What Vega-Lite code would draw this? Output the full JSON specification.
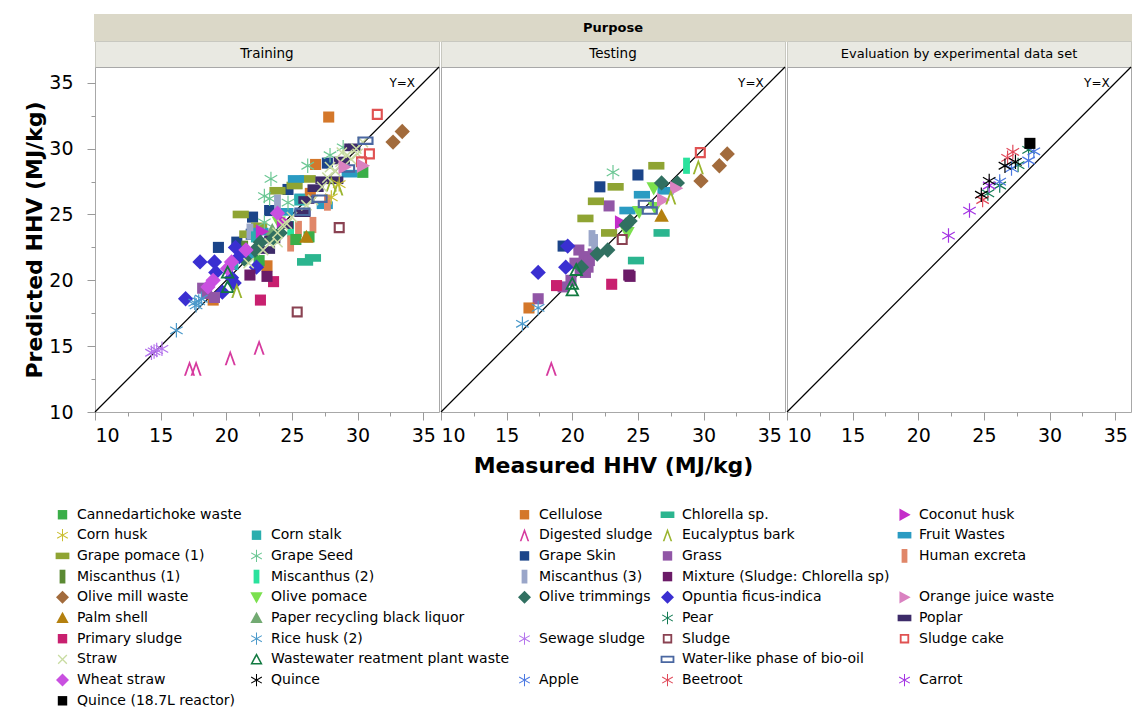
{
  "$schema": "https://vega.github.io/schema/vega-lite/v6.json",
  "padding": {"left": 23, "top": 14, "right": 5, "bottom": 5},
  "config": {
    "font": "DejaVu Sans",
    "view": {"stroke": "#a8a8a8", "strokeWidth": 1},
    "axis": {"grid": false, "domain": false, "tickColor": "#9a9a9a", "tickWidth": 1, "labelColor": "#000000", "labelFontSize": 19, "labelFont": "DejaVu Sans", "titleFont": "DejaVu Sans", "titleFontSize": 22, "titleFontWeight": "bold", "titleColor": "#000000"},
    "legend": {"labelFont": "DejaVu Sans", "labelFontSize": 14, "labelColor": "#000000", "labelLimit": 400, "symbolSize": 210, "symbolStrokeWidth": 0, "symbolOpacity": 1, "symbolLimit": 60, "columns": 5, "direction": "horizontal", "gridAlign": "each", "columnPadding": 7, "rowPadding": 5.7, "padding": 0, "labelOffset": 7}
  },
  "datasets": {
    "pts": [
      {"purpose":"Training","source":"Grape Skin","measured":27.7,"predicted":28.9},
      {"purpose":"Training","source":"Grape Skin","measured":24.7,"predicted":26.9},
      {"purpose":"Training","source":"Grape Skin","measured":23.3,"predicted":25.3},
      {"purpose":"Training","source":"Grape Skin","measured":22.0,"predicted":24.8},
      {"purpose":"Training","source":"Grape Skin","measured":19.4,"predicted":22.5},
      {"purpose":"Training","source":"Grape Skin","measured":20.8,"predicted":22.9},
      {"purpose":"Training","source":"Grape Skin","measured":21.9,"predicted":23.5},
      {"purpose":"Training","source":"Grape pomace (1)","measured":26.2,"predicted":27.7},
      {"purpose":"Training","source":"Grape pomace (1)","measured":25.2,"predicted":27.2},
      {"purpose":"Training","source":"Grape pomace (1)","measured":23.9,"predicted":26.8},
      {"purpose":"Training","source":"Grape pomace (1)","measured":21.1,"predicted":25.0},
      {"purpose":"Training","source":"Grape pomace (1)","measured":21.6,"predicted":23.5},
      {"purpose":"Training","source":"Grape pomace (1)","measured":22.5,"predicted":24.1},
      {"purpose":"Training","source":"Fruit Wastes","measured":25.3,"predicted":27.7},
      {"purpose":"Training","source":"Fruit Wastes","measured":25.8,"predicted":26.3},
      {"purpose":"Training","source":"Fruit Wastes","measured":27.5,"predicted":25.7},
      {"purpose":"Training","source":"Fruit Wastes","measured":29.4,"predicted":28.1},
      {"purpose":"Training","source":"Fruit Wastes","measured":22.6,"predicted":23.7},
      {"purpose":"Training","source":"Fruit Wastes","measured":24.5,"predicted":25.2},
      {"purpose":"Training","source":"Fruit Wastes","measured":21.8,"predicted":21.9},
      {"purpose":"Training","source":"Cellulose","measured":27.8,"predicted":32.4},
      {"purpose":"Training","source":"Cellulose","measured":26.8,"predicted":28.8},
      {"purpose":"Training","source":"Cellulose","measured":23.1,"predicted":21.1},
      {"purpose":"Training","source":"Cellulose","measured":19.0,"predicted":18.5},
      {"purpose":"Training","source":"Cellulose","measured":26.4,"predicted":26.6},
      {"purpose":"Training","source":"Grape Seed","measured":23.4,"predicted":27.7},
      {"purpose":"Training","source":"Grape Seed","measured":22.9,"predicted":26.4},
      {"purpose":"Training","source":"Grape Seed","measured":26.2,"predicted":28.7},
      {"purpose":"Training","source":"Grape Seed","measured":27.9,"predicted":29.5},
      {"purpose":"Training","source":"Grape Seed","measured":28.9,"predicted":30.1},
      {"purpose":"Training","source":"Grape Seed","measured":22.9,"predicted":24.4},
      {"purpose":"Training","source":"Grape Seed","measured":24.7,"predicted":25.9},
      {"purpose":"Training","source":"Grape Seed","measured":23.3,"predicted":26.2},
      {"purpose":"Training","source":"Miscanthus (3)","measured":23.9,"predicted":25.9},
      {"purpose":"Training","source":"Miscanthus (3)","measured":21.8,"predicted":23.7},
      {"purpose":"Training","source":"Miscanthus (1)","measured":21.4,"predicted":22.4},
      {"purpose":"Training","source":"Miscanthus (2)","measured":24.9,"predicted":23.9},
      {"purpose":"Training","source":"Corn stalk","measured":22.3,"predicted":23.3},
      {"purpose":"Training","source":"Corn stalk","measured":25.6,"predicted":26.1},
      {"purpose":"Training","source":"Corn stalk","measured":20.5,"predicted":21.2},
      {"purpose":"Training","source":"Human excreta","measured":27.7,"predicted":25.9},
      {"purpose":"Training","source":"Human excreta","measured":25.5,"predicted":23.9},
      {"purpose":"Training","source":"Human excreta","measured":24.9,"predicted":22.8},
      {"purpose":"Training","source":"Human excreta","measured":26.6,"predicted":24.2},
      {"purpose":"Training","source":"Cannedartichoke waste","measured":26.3,"predicted":23.3},
      {"purpose":"Training","source":"Cannedartichoke waste","measured":30.4,"predicted":28.2},
      {"purpose":"Training","source":"Cannedartichoke waste","measured":25.3,"predicted":23.1},
      {"purpose":"Training","source":"Cannedartichoke waste","measured":22.5,"predicted":21.5},
      {"purpose":"Training","source":"Palm shell","measured":26.1,"predicted":23.3},
      {"purpose":"Training","source":"Paper recycling black liquor","measured":23.5,"predicted":23.8},
      {"purpose":"Training","source":"Olive pomace","measured":24.0,"predicted":24.4},
      {"purpose":"Training","source":"Poplar","measured":27.4,"predicted":27.6},
      {"purpose":"Training","source":"Poplar","measured":26.8,"predicted":27.0},
      {"purpose":"Training","source":"Poplar","measured":28.3,"predicted":27.6},
      {"purpose":"Training","source":"Poplar","measured":26.1,"predicted":26.1},
      {"purpose":"Training","source":"Poplar","measured":25.8,"predicted":25.1},
      {"purpose":"Training","source":"Poplar","measured":29.6,"predicted":30.1},
      {"purpose":"Training","source":"Poplar","measured":23.1,"predicted":22.3},
      {"purpose":"Training","source":"Poplar","measured":24.5,"predicted":24.2},
      {"purpose":"Training","source":"Poplar","measured":28.8,"predicted":29.1},
      {"purpose":"Training","source":"Poplar","measured":23.5,"predicted":23.1},
      {"purpose":"Training","source":"Coconut husk","measured":22.7,"predicted":23.7},
      {"purpose":"Training","source":"Coconut husk","measured":24.3,"predicted":24.5},
      {"purpose":"Training","source":"Olive trimmings","measured":23.6,"predicted":23.2},
      {"purpose":"Training","source":"Olive trimmings","measured":22.6,"predicted":22.9},
      {"purpose":"Training","source":"Olive trimmings","measured":22.2,"predicted":22.3},
      {"purpose":"Training","source":"Olive trimmings","measured":24.1,"predicted":23.6},
      {"purpose":"Training","source":"Olive trimmings","measured":21.4,"predicted":21.6},
      {"purpose":"Training","source":"Opuntia ficus-indica","measured":18.0,"predicted":21.4},
      {"purpose":"Training","source":"Opuntia ficus-indica","measured":16.9,"predicted":18.6},
      {"purpose":"Training","source":"Opuntia ficus-indica","measured":19.1,"predicted":21.4},
      {"purpose":"Training","source":"Opuntia ficus-indica","measured":20.7,"predicted":22.5},
      {"purpose":"Training","source":"Opuntia ficus-indica","measured":21.0,"predicted":21.8},
      {"purpose":"Training","source":"Opuntia ficus-indica","measured":22.3,"predicted":21.0},
      {"purpose":"Training","source":"Opuntia ficus-indica","measured":20.6,"predicted":19.8},
      {"purpose":"Training","source":"Opuntia ficus-indica","measured":19.2,"predicted":20.6},
      {"purpose":"Training","source":"Opuntia ficus-indica","measured":19.7,"predicted":19.1},
      {"purpose":"Training","source":"Opuntia ficus-indica","measured":20.4,"predicted":20.2},
      {"purpose":"Training","source":"Grass","measured":18.2,"predicted":19.4},
      {"purpose":"Training","source":"Grass","measured":19.1,"predicted":18.7},
      {"purpose":"Training","source":"Grass","measured":18.5,"predicted":19.0},
      {"purpose":"Training","source":"Wheat straw","measured":23.9,"predicted":25.1},
      {"purpose":"Training","source":"Wheat straw","measured":21.5,"predicted":22.3},
      {"purpose":"Training","source":"Wheat straw","measured":20.4,"predicted":21.4},
      {"purpose":"Training","source":"Wheat straw","measured":19.0,"predicted":20.0},
      {"purpose":"Training","source":"Wheat straw","measured":18.6,"predicted":19.5},
      {"purpose":"Training","source":"Wheat straw","measured":20.1,"predicted":20.9},
      {"purpose":"Training","source":"Chlorella sp.","measured":26.0,"predicted":21.4},
      {"purpose":"Training","source":"Chlorella sp.","measured":26.6,"predicted":21.7},
      {"purpose":"Training","source":"Primary sludge","measured":23.6,"predicted":19.9},
      {"purpose":"Training","source":"Primary sludge","measured":22.6,"predicted":18.5},
      {"purpose":"Training","source":"Mixture (Sludge: Chlorella sp)","measured":21.8,"predicted":20.4},
      {"purpose":"Training","source":"Mixture (Sludge: Chlorella sp)","measured":23.1,"predicted":20.3},
      {"purpose":"Training","source":"Wastewater reatment plant waste","measured":20.1,"predicted":19.5},
      {"purpose":"Training","source":"Wastewater reatment plant waste","measured":20.1,"predicted":20.6},
      {"purpose":"Training","source":"Eucalyptus bark","measured":28.5,"predicted":27.0},
      {"purpose":"Training","source":"Eucalyptus bark","measured":20.8,"predicted":19.2},
      {"purpose":"Training","source":"Eucalyptus bark","measured":28.0,"predicted":27.3},
      {"purpose":"Training","source":"Corn husk","measured":28.0,"predicted":26.3},
      {"purpose":"Training","source":"Corn husk","measured":28.6,"predicted":27.3},
      {"purpose":"Training","source":"Rice husk (2)","measured":17.6,"predicted":18.3},
      {"purpose":"Training","source":"Rice husk (2)","measured":18.1,"predicted":18.6},
      {"purpose":"Training","source":"Rice husk (2)","measured":16.2,"predicted":16.2},
      {"purpose":"Training","source":"Rice husk (2)","measured":17.7,"predicted":18.1},
      {"purpose":"Training","source":"Rice husk (2)","measured":17.9,"predicted":18.4},
      {"purpose":"Training","source":"Sewage sludge","measured":14.7,"predicted":14.7},
      {"purpose":"Training","source":"Sewage sludge","measured":14.3,"predicted":14.5},
      {"purpose":"Training","source":"Sewage sludge","measured":15.1,"predicted":14.8},
      {"purpose":"Training","source":"Sewage sludge","measured":14.5,"predicted":14.6},
      {"purpose":"Training","source":"Digested sludge","measured":17.2,"predicted":13.3},
      {"purpose":"Training","source":"Digested sludge","measured":17.7,"predicted":13.3},
      {"purpose":"Training","source":"Digested sludge","measured":20.3,"predicted":14.1},
      {"purpose":"Training","source":"Digested sludge","measured":22.5,"predicted":14.9},
      {"purpose":"Training","source":"Straw","measured":30.4,"predicted":30.5},
      {"purpose":"Training","source":"Straw","measured":29.9,"predicted":30.0},
      {"purpose":"Training","source":"Straw","measured":29.2,"predicted":29.5},
      {"purpose":"Training","source":"Straw","measured":28.7,"predicted":29.0},
      {"purpose":"Training","source":"Straw","measured":27.9,"predicted":28.6},
      {"purpose":"Training","source":"Straw","measured":27.7,"predicted":27.8},
      {"purpose":"Training","source":"Straw","measured":27.3,"predicted":27.1},
      {"purpose":"Training","source":"Straw","measured":26.6,"predicted":26.1},
      {"purpose":"Training","source":"Straw","measured":26.1,"predicted":25.7},
      {"purpose":"Training","source":"Straw","measured":25.0,"predicted":24.8},
      {"purpose":"Training","source":"Straw","measured":24.3,"predicted":24.2},
      {"purpose":"Training","source":"Straw","measured":23.9,"predicted":23.6},
      {"purpose":"Training","source":"Straw","measured":23.3,"predicted":22.8},
      {"purpose":"Training","source":"Straw","measured":24.6,"predicted":24.3},
      {"purpose":"Training","source":"Straw","measured":23.9,"predicted":22.9},
      {"purpose":"Training","source":"Straw","measured":21.7,"predicted":21.3},
      {"purpose":"Training","source":"Straw","measured":28.8,"predicted":29.7},
      {"purpose":"Training","source":"Straw","measured":28.3,"predicted":28.3},
      {"purpose":"Training","source":"Straw","measured":29.5,"predicted":29.2},
      {"purpose":"Training","source":"Straw","measured":22.8,"predicted":22.3},
      {"purpose":"Training","source":"Straw","measured":30.0,"predicted":29.6},
      {"purpose":"Training","source":"Water-like phase of bio-oil","measured":30.6,"predicted":30.6},
      {"purpose":"Training","source":"Water-like phase of bio-oil","measured":29.2,"predicted":28.5},
      {"purpose":"Training","source":"Water-like phase of bio-oil","measured":27.1,"predicted":26.2},
      {"purpose":"Training","source":"Water-like phase of bio-oil","measured":25.8,"predicted":25.2},
      {"purpose":"Training","source":"Sludge cake","measured":31.5,"predicted":32.6},
      {"purpose":"Training","source":"Sludge cake","measured":30.9,"predicted":29.6},
      {"purpose":"Training","source":"Sludge cake","measured":30.3,"predicted":29.0},
      {"purpose":"Training","source":"Orange juice waste","measured":30.4,"predicted":28.7},
      {"purpose":"Training","source":"Orange juice waste","measured":29.0,"predicted":28.6},
      {"purpose":"Training","source":"Olive mill waste","measured":33.4,"predicted":31.3},
      {"purpose":"Training","source":"Olive mill waste","measured":32.7,"predicted":30.5},
      {"purpose":"Training","source":"Sludge","measured":28.6,"predicted":24.0},
      {"purpose":"Training","source":"Sludge","measured":25.4,"predicted":17.6},
      {"purpose":"Testing","source":"Grass","measured":22.8,"predicted":25.65},
      {"purpose":"Testing","source":"Grass","measured":17.4,"predicted":18.6},
      {"purpose":"Testing","source":"Grass","measured":20.5,"predicted":22.3},
      {"purpose":"Testing","source":"Grass","measured":20.9,"predicted":21.8},
      {"purpose":"Testing","source":"Grass","measured":21.3,"predicted":21.5},
      {"purpose":"Testing","source":"Grass","measured":20.6,"predicted":20.9},
      {"purpose":"Testing","source":"Grass","measured":21.6,"predicted":22.0},
      {"purpose":"Testing","source":"Grass","measured":20.2,"predicted":21.3},
      {"purpose":"Testing","source":"Grass","measured":21.0,"predicted":20.6},
      {"purpose":"Testing","source":"Grass","measured":19.9,"predicted":20.0},
      {"purpose":"Testing","source":"Grass","measured":21.2,"predicted":21.0},
      {"purpose":"Testing","source":"Grass","measured":19.3,"predicted":19.5},
      {"purpose":"Testing","source":"Grape pomace (1)","measured":26.4,"predicted":28.7},
      {"purpose":"Testing","source":"Grape pomace (1)","measured":23.3,"predicted":27.1},
      {"purpose":"Testing","source":"Grape pomace (1)","measured":21.8,"predicted":26.0},
      {"purpose":"Testing","source":"Grape pomace (1)","measured":21.0,"predicted":24.7},
      {"purpose":"Testing","source":"Grape pomace (1)","measured":22.8,"predicted":23.6},
      {"purpose":"Testing","source":"Grape Seed","measured":23.1,"predicted":28.2},
      {"purpose":"Testing","source":"Grape Skin","measured":25.0,"predicted":28.0},
      {"purpose":"Testing","source":"Grape Skin","measured":22.1,"predicted":27.1},
      {"purpose":"Testing","source":"Grape Skin","measured":19.3,"predicted":22.6},
      {"purpose":"Testing","source":"Fruit Wastes","measured":25.3,"predicted":26.5},
      {"purpose":"Testing","source":"Fruit Wastes","measured":24.2,"predicted":25.3},
      {"purpose":"Testing","source":"Fruit Wastes","measured":27.1,"predicted":26.8},
      {"purpose":"Testing","source":"Miscanthus (3)","measured":21.5,"predicted":23.2},
      {"purpose":"Testing","source":"Miscanthus (3)","measured":21.7,"predicted":22.9},
      {"purpose":"Testing","source":"Miscanthus (2)","measured":28.7,"predicted":28.7},
      {"purpose":"Testing","source":"Olive pomace","measured":26.2,"predicted":27.0},
      {"purpose":"Testing","source":"Olive pomace","measured":25.1,"predicted":25.2},
      {"purpose":"Testing","source":"Olive pomace","measured":24.2,"predicted":23.6},
      {"purpose":"Testing","source":"Olive pomace","measured":26.3,"predicted":25.5},
      {"purpose":"Testing","source":"Coconut husk","measured":23.7,"predicted":24.4},
      {"purpose":"Testing","source":"Olive trimmings","measured":26.8,"predicted":27.4},
      {"purpose":"Testing","source":"Olive trimmings","measured":28.0,"predicted":27.4},
      {"purpose":"Testing","source":"Olive trimmings","measured":24.1,"predicted":24.2},
      {"purpose":"Testing","source":"Olive trimmings","measured":24.4,"predicted":24.5},
      {"purpose":"Testing","source":"Olive trimmings","measured":22.7,"predicted":22.3},
      {"purpose":"Testing","source":"Olive trimmings","measured":21.9,"predicted":22.0},
      {"purpose":"Testing","source":"Olive trimmings","measured":20.7,"predicted":21.0},
      {"purpose":"Testing","source":"Orange juice waste","measured":27.9,"predicted":27.0},
      {"purpose":"Testing","source":"Orange juice waste","measured":26.9,"predicted":26.1},
      {"purpose":"Testing","source":"Eucalyptus bark","measured":29.6,"predicted":28.6},
      {"purpose":"Testing","source":"Eucalyptus bark","measured":27.5,"predicted":26.3},
      {"purpose":"Testing","source":"Water-like phase of bio-oil","measured":25.6,"predicted":25.8},
      {"purpose":"Testing","source":"Water-like phase of bio-oil","measured":25.9,"predicted":25.3},
      {"purpose":"Testing","source":"Palm shell","measured":26.8,"predicted":24.9},
      {"purpose":"Testing","source":"Chlorella sp.","measured":26.8,"predicted":23.6},
      {"purpose":"Testing","source":"Chlorella sp.","measured":24.85,"predicted":21.5},
      {"purpose":"Testing","source":"Sludge","measured":23.8,"predicted":23.1},
      {"purpose":"Testing","source":"Opuntia ficus-indica","measured":19.65,"predicted":22.6},
      {"purpose":"Testing","source":"Opuntia ficus-indica","measured":19.5,"predicted":21.0},
      {"purpose":"Testing","source":"Opuntia ficus-indica","measured":17.4,"predicted":20.6},
      {"purpose":"Testing","source":"Wastewater reatment plant waste","measured":20.3,"predicted":20.8},
      {"purpose":"Testing","source":"Wastewater reatment plant waste","measured":20.0,"predicted":19.75},
      {"purpose":"Testing","source":"Wastewater reatment plant waste","measured":20.0,"predicted":19.25},
      {"purpose":"Testing","source":"Primary sludge","measured":18.8,"predicted":19.6},
      {"purpose":"Testing","source":"Primary sludge","measured":23.0,"predicted":19.7},
      {"purpose":"Testing","source":"Mixture (Sludge: Chlorella sp)","measured":24.3,"predicted":20.4},
      {"purpose":"Testing","source":"Mixture (Sludge: Chlorella sp)","measured":24.4,"predicted":20.3},
      {"purpose":"Testing","source":"Cellulose","measured":16.7,"predicted":17.9},
      {"purpose":"Testing","source":"Rice husk (2)","measured":17.4,"predicted":17.9},
      {"purpose":"Testing","source":"Rice husk (2)","measured":16.2,"predicted":16.7},
      {"purpose":"Testing","source":"Digested sludge","measured":18.4,"predicted":13.3},
      {"purpose":"Testing","source":"Sludge cake","measured":29.75,"predicted":29.7},
      {"purpose":"Testing","source":"Olive mill waste","measured":31.8,"predicted":29.6},
      {"purpose":"Testing","source":"Olive mill waste","measured":31.2,"predicted":28.7},
      {"purpose":"Testing","source":"Olive mill waste","measured":29.8,"predicted":27.55},
      {"purpose":"Evaluation by experimental data set","source":"Pear","measured":28.4,"predicted":29.9},
      {"purpose":"Evaluation by experimental data set","source":"Pear","measured":27.6,"predicted":28.75},
      {"purpose":"Evaluation by experimental data set","source":"Pear","measured":26.2,"predicted":27.2},
      {"purpose":"Evaluation by experimental data set","source":"Pear","measured":25.3,"predicted":26.6},
      {"purpose":"Evaluation by experimental data set","source":"Apple","measured":28.8,"predicted":29.8},
      {"purpose":"Evaluation by experimental data set","source":"Apple","measured":28.4,"predicted":29.1},
      {"purpose":"Evaluation by experimental data set","source":"Apple","measured":27.1,"predicted":28.5},
      {"purpose":"Evaluation by experimental data set","source":"Apple","measured":26.2,"predicted":27.5},
      {"purpose":"Evaluation by experimental data set","source":"Beetroot","measured":27.2,"predicted":29.75},
      {"purpose":"Evaluation by experimental data set","source":"Beetroot","measured":26.8,"predicted":29.3},
      {"purpose":"Evaluation by experimental data set","source":"Beetroot","measured":24.9,"predicted":26.1},
      {"purpose":"Evaluation by experimental data set","source":"Carrot","measured":23.9,"predicted":25.3},
      {"purpose":"Evaluation by experimental data set","source":"Carrot","measured":22.3,"predicted":23.4},
      {"purpose":"Evaluation by experimental data set","source":"Carrot","measured":25.4,"predicted":27.2},
      {"purpose":"Evaluation by experimental data set","source":"Quince","measured":27.4,"predicted":29.0},
      {"purpose":"Evaluation by experimental data set","source":"Quince","measured":26.6,"predicted":28.7},
      {"purpose":"Evaluation by experimental data set","source":"Quince","measured":25.4,"predicted":27.55},
      {"purpose":"Evaluation by experimental data set","source":"Quince","measured":24.8,"predicted":26.5},
      {"purpose":"Evaluation by experimental data set","source":"Quince (18.7L reactor)","measured":28.5,"predicted":30.4}
    ]
  },
  "concat": [
    {"width": 344, "height": 26, "data": {"values": [{"label": ""}]}, "mark": {"type": "text", "fontSize": 13, "fontWeight": "bold", "color": "#000000"}, "encoding": {"text": {"field": "label", "type": "nominal"}}, "view": {"fill": "#dbd8c8", "stroke": "#dbd8c8", "strokeWidth": 2}},
    {"width": 344, "height": 26, "data": {"values": [{"label": "Purpose"}]}, "mark": {"type": "text", "fontSize": 13, "fontWeight": "bold", "color": "#000000"}, "encoding": {"text": {"field": "label", "type": "nominal"}}, "view": {"fill": "#dbd8c8", "stroke": "#dbd8c8", "strokeWidth": 2}},
    {"width": 344, "height": 26, "data": {"values": [{"label": ""}]}, "mark": {"type": "text", "fontSize": 13, "fontWeight": "bold", "color": "#000000"}, "encoding": {"text": {"field": "label", "type": "nominal"}}, "view": {"fill": "#dbd8c8", "stroke": "#dbd8c8", "strokeWidth": 2}},
    {"width": 344, "height": 26, "data": {"values": [{"label": "Training"}]}, "mark": {"type": "text", "fontSize": 13.5, "color": "#000000"}, "encoding": {"text": {"field": "label", "type": "nominal"}}, "view": {"fill": "#e9e9e2", "stroke": "#c8c8c0"}},
    {"width": 344, "height": 26, "data": {"values": [{"label": "Testing"}]}, "mark": {"type": "text", "fontSize": 13.5, "color": "#000000"}, "encoding": {"text": {"field": "label", "type": "nominal"}}, "view": {"fill": "#e9e9e2", "stroke": "#c8c8c0"}},
    {"width": 344, "height": 26, "data": {"values": [{"label": "Evaluation by experimental data set"}]}, "mark": {"type": "text", "fontSize": 13, "color": "#000000"}, "encoding": {"text": {"field": "label", "type": "nominal"}}, "view": {"fill": "#e9e9e2", "stroke": "#c8c8c0"}},
    {
      "width": 344, "height": 345,
      "layer": [
        {"data": {"values": [{}]}, "mark": {"type": "rule", "color": "#000000", "strokeWidth": 1.2},
         "encoding": {
           "x": {"datum": 10, "type": "quantitative", "scale": {"domain": [10, 36.2], "nice": false, "zero": false}, "axis": {"values": [10,12.5,15,17.5,20,22.5,25,27.5,30,32.5,35], "labelExpr": "datum.value % 5 === 0 ? datum.label : ''", "tickSize": {"condition": {"test": "datum.value % 5 === 0", "value": 8}, "value": 4}, "labelFlush": 15, "labelOverlap": false, "labelPadding": 6, "title": null}},
           "y": {"datum": 10, "type": "quantitative", "scale": {"domain": [10, 36.2], "nice": false, "zero": false}, "axis": {"values": [10,12.5,15,17.5,20,22.5,25,27.5,30,32.5,35], "labelExpr": "datum.value % 5 === 0 ? datum.label : ''", "tickSize": {"condition": {"test": "datum.value % 5 === 0", "value": 8}, "value": 4}, "labelOverlap": false, "labelPadding": 14, "title": "Predicted HHV (MJ/kg)", "titlePadding": 2}},
           "x2": {"datum": 36.2}, "y2": {"datum": 36.2}}},
        {"data": {"values": [{}]}, "mark": {"type": "text", "fontSize": 12, "color": "#000000"},
         "encoding": {
           "x": {"datum": 33.4, "type": "quantitative", "scale": {"domain": [10, 36.2], "nice": false, "zero": false}, "axis": {"values": [10,12.5,15,17.5,20,22.5,25,27.5,30,32.5,35], "labelExpr": "datum.value % 5 === 0 ? datum.label : ''", "tickSize": {"condition": {"test": "datum.value % 5 === 0", "value": 8}, "value": 4}, "labelFlush": 15, "labelOverlap": false, "labelPadding": 6, "title": null}},
           "y": {"datum": 35.0, "type": "quantitative", "scale": {"domain": [10, 36.2], "nice": false, "zero": false}, "axis": {"values": [10,12.5,15,17.5,20,22.5,25,27.5,30,32.5,35], "labelExpr": "datum.value % 5 === 0 ? datum.label : ''", "tickSize": {"condition": {"test": "datum.value % 5 === 0", "value": 8}, "value": 4}, "labelOverlap": false, "labelPadding": 14, "title": "Predicted HHV (MJ/kg)", "titlePadding": 2}},
           "text": {"value": "Y=X"}}},
        {"data": {"name": "pts"}, "transform": [{"filter": "datum.purpose === 'Training'"}],
         "mark": {"type": "point", "filled": true, "size": 290, "opacity": 1, "strokeWidth": 0},
         "encoding": {
           "x": {"field": "measured", "type": "quantitative", "scale": {"domain": [10, 36.2], "nice": false, "zero": false}, "axis": {"values": [10,12.5,15,17.5,20,22.5,25,27.5,30,32.5,35], "labelExpr": "datum.value % 5 === 0 ? datum.label : ''", "tickSize": {"condition": {"test": "datum.value % 5 === 0", "value": 8}, "value": 4}, "labelFlush": 15, "labelOverlap": false, "labelPadding": 6, "title": null}},
           "y": {"field": "predicted", "type": "quantitative", "scale": {"domain": [10, 36.2], "nice": false, "zero": false}, "axis": {"values": [10,12.5,15,17.5,20,22.5,25,27.5,30,32.5,35], "labelExpr": "datum.value % 5 === 0 ? datum.label : ''", "tickSize": {"condition": {"test": "datum.value % 5 === 0", "value": 8}, "value": 4}, "labelOverlap": false, "labelPadding": 14, "title": "Predicted HHV (MJ/kg)", "titlePadding": 2}},
           "color": {"field": "source", "type": "nominal", "legend": {"title": null, "orient": "none", "legendX": -40, "legendY": 492},
             "scale": {"domain": ["Cannedartichoke waste"," ","Cellulose","Chlorella sp.","Coconut husk","Corn husk","Corn stalk","Digested sludge","Eucalyptus bark","Fruit Wastes","Grape pomace (1)","Grape Seed","Grape Skin","Grass","Human excreta","Miscanthus (1)","Miscanthus (2)","Miscanthus (3)","Mixture (Sludge: Chlorella sp)","  ","Olive mill waste","Olive pomace","Olive trimmings","Opuntia ficus-indica","Orange juice waste","Palm shell","Paper recycling black liquor","   ","Pear","Poplar","Primary sludge","Rice husk (2)","Sewage sludge","Sludge","Sludge cake","Straw","Wastewater reatment plant waste","    ","Water-like phase of bio-oil","     ","Wheat straw","Quince","Apple","Beetroot","Carrot","Quince (18.7L reactor)"],
               "range": ["#3aae48","transparent","#d4772a","#2bb58f","#c42dc9","#c9bd2e","#2aaeae","#d63a9e","#9bb52f","#2a9bc2","#8fa433","#6cc794","#1b4489","#9156a6","#e08769","#5b8a33","#2ae29d","#9aa6c9","#6b1b67","transparent","#a26b3c","#7be04e","#317061","#3a2fd1","#da82c1","#b4800f","#72aa72","transparent","#117a52","#3d2b69","#c8206f","#4a99ca","#b474ec","#8a4252","#e05252","#c9dca2","#127a41","transparent","#4a67a1","transparent","#c950e0","#000000","#4b78e2","#e04a5a","#a333e3","#000000"]}},
           "shape": {"field": "source", "type": "nominal", "legend": {"title": null, "orient": "none", "legendX": -40, "legendY": 492},
             "scale": {"domain": ["Cannedartichoke waste"," ","Cellulose","Chlorella sp.","Coconut husk","Corn husk","Corn stalk","Digested sludge","Eucalyptus bark","Fruit Wastes","Grape pomace (1)","Grape Seed","Grape Skin","Grass","Human excreta","Miscanthus (1)","Miscanthus (2)","Miscanthus (3)","Mixture (Sludge: Chlorella sp)","  ","Olive mill waste","Olive pomace","Olive trimmings","Opuntia ficus-indica","Orange juice waste","Palm shell","Paper recycling black liquor","   ","Pear","Poplar","Primary sludge","Rice husk (2)","Sewage sludge","Sludge","Sludge cake","Straw","Wastewater reatment plant waste","    ","Water-like phase of bio-oil","     ","Wheat straw","Quince","Apple","Beetroot","Carrot","Quince (18.7L reactor)"],
               "range": [
                 "M-0.65,-0.65H0.65V0.65H-0.65Z",
                 "M-0.65,-0.65H0.65V0.65H-0.65Z",
                 "M-0.65,-0.65H0.65V0.65H-0.65Z",
                 "M-0.95,-0.45H0.95V0.45H-0.95Z",
                 "M0.85,0L-0.7,0.85L-0.7,-0.85Z",
                 "M-0.07,-0.85H0.07V0.85H-0.07Z M0.701,0.486L-0.771,-0.364L-0.701,-0.486L0.771,0.364Z M0.771,-0.364L-0.701,0.486L-0.771,0.364L0.701,-0.486Z",
                 "M-0.65,-0.65H0.65V0.65H-0.65Z",
                 "M0,-0.95L0.65,0.85L0.42,0.85L0,-0.35L-0.42,0.85L-0.65,0.85Z",
                 "M0,-0.95L0.65,0.85L0.42,0.85L0,-0.35L-0.42,0.85L-0.65,0.85Z",
                 "M-0.95,-0.45H0.95V0.45H-0.95Z",
                 "M-0.95,-0.45H0.95V0.45H-0.95Z",
                 "M-0.07,-0.85H0.07V0.85H-0.07Z M0.701,0.486L-0.771,-0.364L-0.701,-0.486L0.771,0.364Z M0.771,-0.364L-0.701,0.486L-0.771,0.364L0.701,-0.486Z",
                 "M-0.65,-0.65H0.65V0.65H-0.65Z",
                 "M-0.65,-0.65H0.65V0.65H-0.65Z",
                 "M-0.4,-0.95H0.4V0.95H-0.4Z",
                 "M-0.4,-0.95H0.4V0.95H-0.4Z",
                 "M-0.4,-0.95H0.4V0.95H-0.4Z",
                 "M-0.4,-0.95H0.4V0.95H-0.4Z",
                 "M-0.65,-0.65H0.65V0.65H-0.65Z",
                 "M-0.65,-0.65H0.65V0.65H-0.65Z",
                 "M0,-0.9L0.9,0L0,0.9L-0.9,0Z",
                 "M0,0.85L0.85,-0.7L-0.85,-0.7Z",
                 "M0,-0.9L0.9,0L0,0.9L-0.9,0Z",
                 "M0,-0.9L0.9,0L0,0.9L-0.9,0Z",
                 "M0.85,0L-0.7,0.85L-0.7,-0.85Z",
                 "M0,-0.85L0.85,0.7L-0.85,0.7Z",
                 "M0,-0.85L0.85,0.7L-0.85,0.7Z",
                 "M-0.65,-0.65H0.65V0.65H-0.65Z",
                 "M-0.07,-0.85H0.07V0.85H-0.07Z M0.701,0.486L-0.771,-0.364L-0.701,-0.486L0.771,0.364Z M0.771,-0.364L-0.701,0.486L-0.771,0.364L0.701,-0.486Z",
                 "M-0.95,-0.45H0.95V0.45H-0.95Z",
                 "M-0.65,-0.65H0.65V0.65H-0.65Z",
                 "M-0.07,-0.85H0.07V0.85H-0.07Z M0.701,0.486L-0.771,-0.364L-0.701,-0.486L0.771,0.364Z M0.771,-0.364L-0.701,0.486L-0.771,0.364L0.701,-0.486Z",
                 "M-0.07,-0.85H0.07V0.85H-0.07Z M0.701,0.486L-0.771,-0.364L-0.701,-0.486L0.771,0.364Z M0.771,-0.364L-0.701,0.486L-0.771,0.364L0.701,-0.486Z",
                 "M-0.65,-0.65H0.65V0.65H-0.65Z M-0.4,-0.4V0.4H0.4V-0.4Z",
                 "M-0.65,-0.65H0.65V0.65H-0.65Z M-0.4,-0.4V0.4H0.4V-0.4Z",
                 "M0.537,0.665L-0.665,-0.537L-0.537,-0.665L0.665,0.537Z M0.665,-0.537L-0.537,0.665L-0.665,0.537L0.537,-0.665Z",
                 "M0,-0.9L0.85,0.72L-0.85,0.72Z M0,-0.45L-0.5,0.5L0.5,0.5Z",
                 "M-0.65,-0.65H0.65V0.65H-0.65Z",
                 "M-0.95,-0.5H0.95V0.5H-0.95Z M-0.7,-0.25V0.25H0.7V-0.25Z",
                 "M-0.65,-0.65H0.65V0.65H-0.65Z",
                 "M0,-0.9L0.9,0L0,0.9L-0.9,0Z",
                 "M-0.07,-0.85H0.07V0.85H-0.07Z M0.701,0.486L-0.771,-0.364L-0.701,-0.486L0.771,0.364Z M0.771,-0.364L-0.701,0.486L-0.771,0.364L0.701,-0.486Z",
                 "M-0.07,-0.85H0.07V0.85H-0.07Z M0.701,0.486L-0.771,-0.364L-0.701,-0.486L0.771,0.364Z M0.771,-0.364L-0.701,0.486L-0.771,0.364L0.701,-0.486Z",
                 "M-0.07,-0.85H0.07V0.85H-0.07Z M0.701,0.486L-0.771,-0.364L-0.701,-0.486L0.771,0.364Z M0.771,-0.364L-0.701,0.486L-0.771,0.364L0.701,-0.486Z",
                 "M-0.07,-0.85H0.07V0.85H-0.07Z M0.701,0.486L-0.771,-0.364L-0.701,-0.486L0.771,0.364Z M0.771,-0.364L-0.701,0.486L-0.771,0.364L0.701,-0.486Z",
                 "M-0.65,-0.65H0.65V0.65H-0.65Z"
               ]}}
         }}
      ]
    },
    {
      "width": 344, "height": 345,
      "layer": [
        {"data": {"values": [{}]}, "mark": {"type": "rule", "color": "#000000", "strokeWidth": 1.2},
         "encoding": {
           "x": {"datum": 10, "type": "quantitative", "scale": {"domain": [10, 36.2], "nice": false, "zero": false}, "axis": {"values": [10,12.5,15,17.5,20,22.5,25,27.5,30,32.5,35], "labelExpr": "datum.value % 5 === 0 ? datum.label : ''", "tickSize": {"condition": {"test": "datum.value % 5 === 0", "value": 8}, "value": 4}, "labelFlush": 15, "labelOverlap": false, "labelPadding": 6, "title": "Measured HHV (MJ/kg)", "titlePadding": 10}},
           "y": {"datum": 10, "type": "quantitative", "scale": {"domain": [10, 36.2], "nice": false, "zero": false}, "axis": null},
           "x2": {"datum": 36.2}, "y2": {"datum": 36.2}}},
        {"data": {"values": [{}]}, "mark": {"type": "text", "fontSize": 12, "color": "#000000"},
         "encoding": {
           "x": {"datum": 33.6, "type": "quantitative", "scale": {"domain": [10, 36.2], "nice": false, "zero": false}, "axis": {"values": [10,12.5,15,17.5,20,22.5,25,27.5,30,32.5,35], "labelExpr": "datum.value % 5 === 0 ? datum.label : ''", "tickSize": {"condition": {"test": "datum.value % 5 === 0", "value": 8}, "value": 4}, "labelFlush": 15, "labelOverlap": false, "labelPadding": 6, "title": "Measured HHV (MJ/kg)", "titlePadding": 10}},
           "y": {"datum": 35.0, "type": "quantitative", "scale": {"domain": [10, 36.2], "nice": false, "zero": false}, "axis": null},
           "text": {"value": "Y=X"}}},
        {"data": {"name": "pts"}, "transform": [{"filter": "datum.purpose === 'Testing'"}],
         "mark": {"type": "point", "filled": true, "size": 290, "opacity": 1, "strokeWidth": 0},
         "encoding": {
           "x": {"field": "measured", "type": "quantitative", "scale": {"domain": [10, 36.2], "nice": false, "zero": false}, "axis": {"values": [10,12.5,15,17.5,20,22.5,25,27.5,30,32.5,35], "labelExpr": "datum.value % 5 === 0 ? datum.label : ''", "tickSize": {"condition": {"test": "datum.value % 5 === 0", "value": 8}, "value": 4}, "labelFlush": 15, "labelOverlap": false, "labelPadding": 6, "title": "Measured HHV (MJ/kg)", "titlePadding": 10}},
           "y": {"field": "predicted", "type": "quantitative", "scale": {"domain": [10, 36.2], "nice": false, "zero": false}, "axis": null},
           "color": {"field": "source", "type": "nominal", "legend": {"title": null, "orient": "none", "legendX": -40, "legendY": 492}},
           "shape": {"field": "source", "type": "nominal", "legend": {"title": null, "orient": "none", "legendX": -40, "legendY": 492}}
         }}
      ]
    },
    {
      "width": 344, "height": 345,
      "layer": [
        {"data": {"values": [{}]}, "mark": {"type": "rule", "color": "#000000", "strokeWidth": 1.2},
         "encoding": {
           "x": {"datum": 10, "type": "quantitative", "scale": {"domain": [10, 36.2], "nice": false, "zero": false}, "axis": {"values": [10,12.5,15,17.5,20,22.5,25,27.5,30,32.5,35], "labelExpr": "datum.value % 5 === 0 ? datum.label : ''", "tickSize": {"condition": {"test": "datum.value % 5 === 0", "value": 8}, "value": 4}, "labelFlush": 15, "labelOverlap": false, "labelPadding": 6, "title": null}},
           "y": {"datum": 10, "type": "quantitative", "scale": {"domain": [10, 36.2], "nice": false, "zero": false}, "axis": null},
           "x2": {"datum": 36.2}, "y2": {"datum": 36.2}}},
        {"data": {"values": [{}]}, "mark": {"type": "text", "fontSize": 12, "color": "#000000"},
         "encoding": {
           "x": {"datum": 33.6, "type": "quantitative", "scale": {"domain": [10, 36.2], "nice": false, "zero": false}, "axis": {"values": [10,12.5,15,17.5,20,22.5,25,27.5,30,32.5,35], "labelExpr": "datum.value % 5 === 0 ? datum.label : ''", "tickSize": {"condition": {"test": "datum.value % 5 === 0", "value": 8}, "value": 4}, "labelFlush": 15, "labelOverlap": false, "labelPadding": 6, "title": null}},
           "y": {"datum": 35.0, "type": "quantitative", "scale": {"domain": [10, 36.2], "nice": false, "zero": false}, "axis": null},
           "text": {"value": "Y=X"}}},
        {"data": {"name": "pts"}, "transform": [{"filter": "datum.purpose === 'Evaluation by experimental data set'"}],
         "mark": {"type": "point", "filled": true, "size": 290, "opacity": 1, "strokeWidth": 0},
         "encoding": {
           "x": {"field": "measured", "type": "quantitative", "scale": {"domain": [10, 36.2], "nice": false, "zero": false}, "axis": {"values": [10,12.5,15,17.5,20,22.5,25,27.5,30,32.5,35], "labelExpr": "datum.value % 5 === 0 ? datum.label : ''", "tickSize": {"condition": {"test": "datum.value % 5 === 0", "value": 8}, "value": 4}, "labelFlush": 15, "labelOverlap": false, "labelPadding": 6, "title": null}},
           "y": {"field": "predicted", "type": "quantitative", "scale": {"domain": [10, 36.2], "nice": false, "zero": false}, "axis": null},
           "color": {"field": "source", "type": "nominal", "legend": {"title": null, "orient": "none", "legendX": -40, "legendY": 492}},
           "shape": {"field": "source", "type": "nominal", "legend": {"title": null, "orient": "none", "legendX": -40, "legendY": 492}}
         }}
      ]
    }
  ],
  "columns": 3,
  "spacing": {"row": 0, "column": 2},
  "bounds": "flush"
}
